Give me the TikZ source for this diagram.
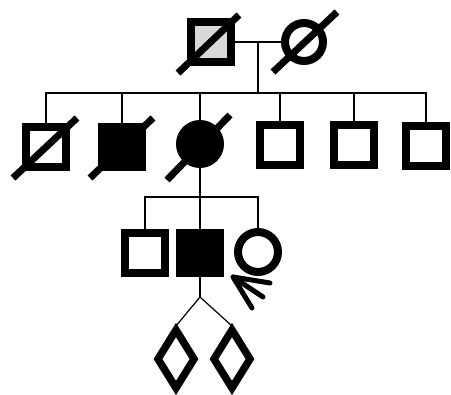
\documentclass[tikz,border=0pt]{standalone}
\usetikzlibrary{calc}
\begin{document}
\begin{tikzpicture}[x=1pt,y=-1pt,
  male/.style={draw,rectangle,line width=8pt,minimum size=40pt,inner sep=0pt},
  female/.style={draw,circle,line width=8pt,minimum size=#1,inner sep=0pt},
  female/.default=38pt,
  unknown/.style={draw,line width=7.5pt,miter limit=10},
  affected/.style={fill=black},
  carrier/.style={fill=gray!30},
  link/.style={line width=1.2pt},
  deceased/.style={line width=7pt},
  proband/.style={line width=5pt,line cap=round,line join=round}]
\useasboundingbox (0,0) rectangle (451,395);

% generation I
\node[male,carrier] (I1) at (211,42) {};
\node[female] (I2) at (304,42) {};
\draw[deceased] ($(I1)+(-33,31)$) -- ($(I1)+(28,-27)$);
\draw[deceased] ($(I2)+(-31,30)$) -- ($(I2)+(33,-30)$);
\coordinate (m1) at (258,42);
\coordinate (s1) at (258,93);
\draw[link] (I1.east) -- (I2.west);
\draw[link] (m1) -- (s1);

% generation II
\node[male] (II1) at (46,147) {};
\node[male,affected] (II2) at (122,147) {};
\node[female=40pt,affected] (II3) at (200,144) {};
\node[male] (II4) at (280,145) {};
\node[male] (II5) at (354,145) {};
\node[male] (II6) at (426,146) {};
\draw[deceased] ($(II1)+(-33,31)$) -- ($(II1)+(31,-29)$);
\draw[deceased] ($(II2)+(-32,31)$) -- ($(II2)+(31,-29)$);
\draw[deceased] ($(II3)+(-33,36)$) -- ($(II3)+(30,-29)$);
\draw[link] (II1.north) -- (II1.north |- s1) -- (II6.north |- s1) -- (II6.north);
\foreach \n in {II2,II3,II4,II5}
  \draw[link] (\n.north) -- (\n.north |- s1);

% generation III
\coordinate (s2) at (200,197);
\node[male] (III1) at (145,253) {};
\node[male,affected] (III2) at (200,253) {};
\node[female=40pt] (III3) at (258,252) {};
\draw[link] (II3.south) -- (s2);
\draw[link] (III1.north) -- (III1.north |- s2) -- (III3.north |- s2) -- (III3.north);
\draw[link] (III2.north) -- (s2);

% proband arrow
\coordinate (tip) at ($(III3)+(-25,25)$);
\coordinate (pa) at ($(tip)+(37,6)$);
\coordinate (pb) at ($(tip)+(30,20)$);
\coordinate (pc) at ($(tip)+(19,31)$);
\draw[proband] (pa) -- (tip) -- (pc);
\draw[proband] (tip) -- (pb);

% generation IV (twins, sex unknown)
\coordinate (tw) at (200,297);
\coordinate (IV1) at (176,359);
\coordinate (IV2) at (232,359);
\coordinate (IV1t) at ($(IV1)+(0,-33)$);
\coordinate (IV2t) at ($(IV2)+(0,-33)$);
\foreach \d in {IV1,IV2}
  \draw[unknown] ($(\d)+(0,-29)$) -- ++(18,29) -- ++(-18,29) -- ++(-18,-29) -- cycle;
\draw[link] (III2.south) -- (tw);
\draw[link] (tw) -- (IV1t);
\draw[link] (tw) -- (IV2t);
\end{tikzpicture}
\end{document}
